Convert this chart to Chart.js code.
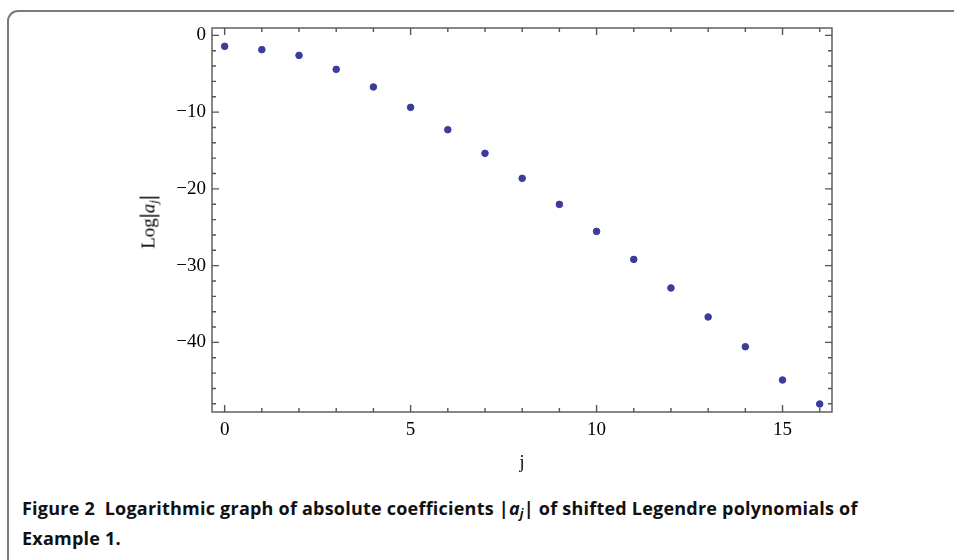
<!DOCTYPE html>
<html>
<head>
<meta charset="utf-8">
<script src="https://cdn.jsdelivr.net/npm/chart.js@4.4.1/dist/chart.umd.min.js"></script>
<style>
  body { margin: 0; width: 954px; height: 560px; overflow: hidden; background: #fff; position: relative; }
  .frame { position: absolute; left: 7px; top: 10px; width: 980px; height: 600px; border: 2px solid #7a7a7a; border-radius: 11px; box-sizing: border-box; }
  .wrap { position: absolute; left: 0; top: 0; width: 954px; height: 470px; }
  .ytitle { position: absolute; left: 148px; top: 222px; transform: translate(-50%, -50%) rotate(-90deg); font: 19px "Liberation Serif", serif; white-space: nowrap; color: #000; }
  .ytitle b { font-weight: bold; font-size: 1.15em; }
  .xtitle { position: absolute; left: 522px; top: 462px; transform: translate(-50%, -50%); font: 18px "Liberation Serif", serif; color: #000; }
  .caption { position: absolute; left: 22px; top: 493px; font: bold 18px "Open Sans", sans-serif; line-height: 30px; letter-spacing: 0.22px; color: #111; white-space: nowrap; }
  sub { font-size: 0.7em; vertical-align: -0.25em; line-height: 0; }
</style>
</head>
<body>
<div class="frame"></div>
<div class="wrap"><canvas id="grafico"></canvas></div>
<div class="ytitle">Log<b>|</b><i>a</i><sub><i>j</i></sub><b>|</b></div>
<div class="xtitle">j</div>
<div class="caption">Figure 2&nbsp; Logarithmic graph of absolute coefficients |<i>a</i><sub><i>j</i></sub>| of shifted Legendre polynomials of<br>Example 1.</div>
<script>
const jValues = [0, 1, 2, 3, 4, 5, 6, 7, 8, 9, 10, 11, 12, 13, 14, 15, 16];
const logCoeffs = [-1.43, -1.86, -2.61, -4.43, -6.72, -9.38, -12.29, -15.37, -18.63, -22.02, -25.54, -29.19, -32.91, -36.69, -40.56, -44.9, -48.03];
const xTicks = [0, 5, 10, 15];
const xMinor = [0, 1, 2, 3, 4, 5, 6, 7, 8, 9, 10, 11, 12, 13, 14, 15, 16];
const yTicks = [0, -10, -20, -30, -40];
const yMinor = [0, -2, -4, -6, -8, -10, -12, -14, -16, -18, -20, -22, -24, -26, -28, -30, -32, -34, -36, -38, -40, -42, -44, -46, -48];

const points = jValues.map((j, i) => ({ x: j, y: logCoeffs[i] }));

// frame with inward ticks on all four sides
const frameTicks = {
  id: 'frameTicks',
  afterDraw(chart) {
    const ctx = chart.ctx;
    const a = chart.chartArea;
    const xs = chart.scales.x, ys = chart.scales.y;
    ctx.save();
    ctx.strokeStyle = '#555';
    ctx.lineWidth = 1.4;
    ctx.strokeRect(a.left, a.top, a.right - a.left, a.bottom - a.top);
    ctx.beginPath();
    for (const v of xMinor) {
      const px = xs.getPixelForValue(v);
      const len = xTicks.includes(v) ? 7 : 4;
      ctx.moveTo(px, a.bottom); ctx.lineTo(px, a.bottom - len);
      ctx.moveTo(px, a.top); ctx.lineTo(px, a.top + len);
    }
    for (const v of yMinor) {
      const py = ys.getPixelForValue(v);
      const len = yTicks.includes(v) ? 7 : 4;
      ctx.moveTo(a.left, py); ctx.lineTo(a.left + len, py);
      ctx.moveTo(a.right, py); ctx.lineTo(a.right - len, py);
    }
    ctx.stroke();
    ctx.restore();
  }
};

new Chart('grafico', {
  type: 'scatter',
  data: {
    datasets: [{
      data: points,
      backgroundColor: '#3c3c9c',
      borderColor: '#3c3c9c',
      pointRadius: 3.3,
      pointHoverRadius: 3.3
    }]
  },
  options: {
    responsive: true,
    maintainAspectRatio: false,
    animation: false,
    layout: { padding: { left: 0, right: 122, top: 28, bottom: 0 } },
    plugins: { legend: { display: false }, tooltip: { enabled: false } },
    scales: {
      x: {
        min: -0.34,
        max: 16.33,
        grid: { display: false, drawTicks: false },
        border: { display: false },
        afterBuildTicks: s => { s.ticks = xTicks.map(v => ({ value: v })); },
        afterFit: s => { s.height = 58; },
        ticks: { color: '#000', padding: 7, maxRotation: 0, font: { family: 'Liberation Serif', size: 19 } }
      },
      y: {
        min: -49.07,
        max: 0.96,
        grid: { display: false, drawTicks: false },
        border: { display: false },
        afterBuildTicks: s => { s.ticks = yTicks.map(v => ({ value: v })); },
        afterFit: s => { s.width = 212; },
        ticks: {
          color: '#000', padding: 6,
          font: { family: 'Liberation Serif', size: 19 },
          callback: v => v < 0 ? '\u2212' + Math.abs(v) : String(v)
        }
      }
    }
  },
  plugins: [frameTicks]
});
</script>
</body>
</html>
